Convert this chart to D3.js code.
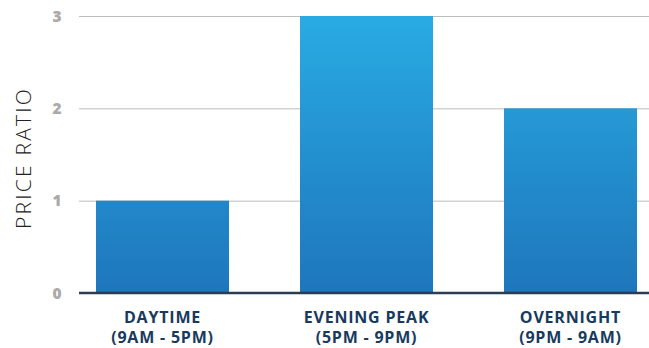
<!DOCTYPE html>
<html><head><meta charset="utf-8">
<script src="https://cdn.jsdelivr.net/npm/d3@7"></script>
<style>body{margin:0;background:#fff}svg{display:block}</style>
</head><body>
<script>
const categories = ["DAYTIME|(9AM - 5PM)", "EVENING PEAK|(5PM - 9PM)", "OVERNIGHT|(9PM - 9AM)"];
const values = [1, 3, 2];
const yTicks = [0, 1, 2, 3];
const yLabel = "PRICE RATIO";

const W = 649, H = 348;
const svg = d3.select("body").append("svg").attr("width", W).attr("height", H);

const x = d3.scaleBand().domain(categories).range([60.5, 672.5]).paddingInner(0.348).paddingOuter(0.174);
const y = d3.scaleLinear().domain([0, 3]).range([293, 16]);

const defs = svg.append("defs");
const g = defs.append("linearGradient").attr("id", "bg").attr("gradientUnits", "userSpaceOnUse")
  .attr("x1", 0).attr("x2", 0).attr("y1", y(3)).attr("y2", y(0));
g.append("stop").attr("offset", "0%").attr("stop-color", "#29abe2");
g.append("stop").attr("offset", "100%").attr("stop-color", "#1e76bb");

// gridlines
svg.append("g").selectAll("line").data(yTicks.filter(d => d > 0)).join("line")
  .attr("x1", 79).attr("x2", W).attr("y1", d => y(d) + 0.5).attr("y2", d => y(d) + 0.5)
  .attr("stroke", "#bdbdbd").attr("stroke-width", 1);

// bars
svg.append("g").selectAll("rect").data(values).join("rect")
  .attr("x", (d, i) => x(categories[i])).attr("width", x.bandwidth())
  .attr("y", d => y(d)).attr("height", d => y(0) - y(d))
  .attr("fill", "url(#bg)");

// baseline
svg.append("line").attr("x1", 79).attr("x2", W).attr("y1", y(0)).attr("y2", y(0))
  .attr("stroke", "#2b3d52").attr("stroke-width", 2.5);

// y tick labels
svg.append("g").selectAll("text").data(yTicks).join("text")
  .attr("x", 57).attr("y", d => y(d)).attr("dy", "0.36em").attr("text-anchor", "middle")
  .attr("font-family", "Open Sans, sans-serif").attr("font-weight", 800).attr("font-size", 15.5)
  .attr("fill", "#aaaaaa").text(d => d);

// y axis label
svg.append("text").attr("transform", "translate(30.5,158) rotate(-90)")
  .attr("text-anchor", "middle").attr("font-family", "Open Sans, sans-serif")
  .attr("font-weight", 300).attr("font-size", 21).attr("letter-spacing", 2.2)
  .attr("fill", "#222").text(yLabel);

// x labels
const xl = svg.append("g").selectAll("text").data(categories).join("text")
  .attr("text-anchor", "middle").attr("font-family", "Open Sans, sans-serif")
  .attr("font-weight", 700).attr("font-size", 16).attr("letter-spacing", 0.8).attr("fill", "#173a5e");
xl.each(function(d) {
  const parts = d.split("|");
  const t = d3.select(this);
  parts.forEach((p, i) => t.append("tspan").attr("x", x(d) + x.bandwidth() / 2)
    .attr("y", 323 + i * 20).text(p));
});
</script>
</body></html>
